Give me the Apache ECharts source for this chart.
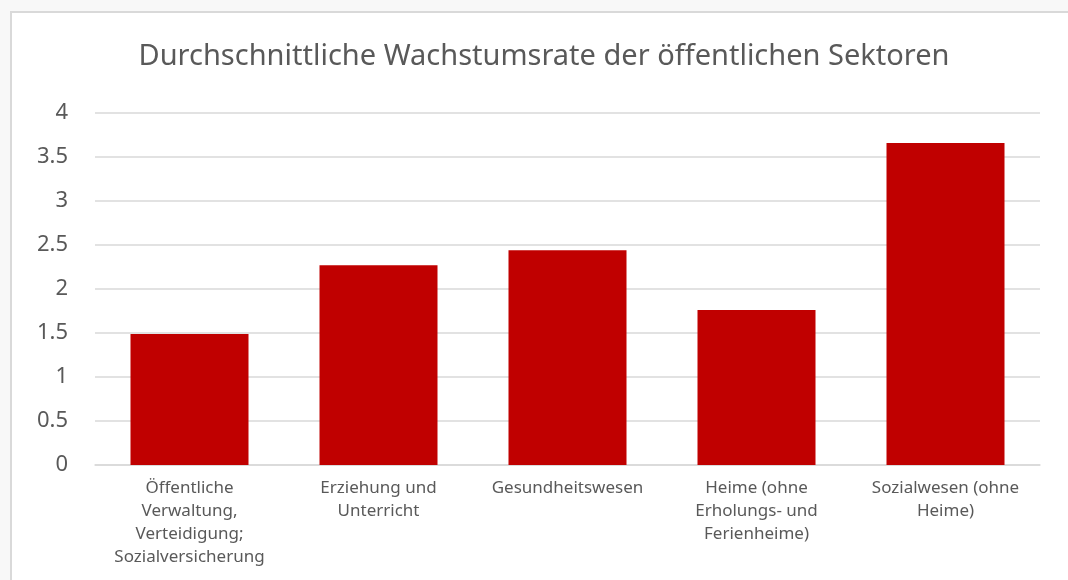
<!DOCTYPE html>
<html>
<head>
<meta charset="utf-8">
<title>Durchschnittliche Wachstumsrate der öffentlichen Sektoren</title>
<script src="https://cdn.jsdelivr.net/npm/echarts@6/dist/echarts.min.js"></script>
<style>
    html, body { margin: 0; padding: 0; background: #f8f8f8; overflow: hidden; }
    .frame {
        position: absolute; left: 10px; top: 11px;
        width: 1058px; height: 569px;
        background: #ffffff;
        border-top: 2px solid #d9d9d9;
        border-left: 2px solid #d9d9d9;
    }
    .chart { width: 1056px; height: 567px; }
</style>
</head>
<body>
<div class="frame"><div class="chart" id="chart"></div></div>
<script>
// sectors (line breaks as in the original axis labels)
const sectors = [
    'Öffentliche\nVerwaltung,\nVerteidigung;\nSozialversicherung',
    'Erziehung und\nUnterricht',
    'Gesundheitswesen',
    'Heime (ohne\nErholungs- und\nFerienheime)',
    'Sozialwesen (ohne\nHeime)'
];
// average growth rate
const growthRate = [1.49, 2.27, 2.44, 1.76, 3.66];
const yTicks = [0, 0.5, 1, 1.5, 2, 2.5, 3, 3.5, 4];

const textColor = '#595959';
const fontFamily = '"Noto Sans", "Open Sans", sans-serif';

const chart = echarts.init(document.getElementById('chart'));
chart.setOption({
    animation: false,
    title: {
        text: 'Durchschnittliche Wachstumsrate der öffentlichen Sektoren',
        left: 527,
        top: 24,
        textAlign: 'center',
        textStyle: {
            color: textColor,
            fontFamily: fontFamily,
            fontSize: 29,
            fontWeight: 'normal'
        }
    },
    grid: {
        left: 83,
        top: 100,
        width: 945,
        height: 352,
        containLabel: false
    },
    xAxis: {
        type: 'category',
        data: sectors,
        axisTick: { show: false },
        axisLine: { lineStyle: { color: '#d9d9d9', width: 1.5 } },
        axisLabel: {
            interval: 0,
            margin: 12,
            color: textColor,
            fontFamily: fontFamily,
            fontSize: 17,
            lineHeight: 23
        }
    },
    yAxis: {
        type: 'value',
        min: yTicks[0],
        max: yTicks[yTicks.length - 1],
        interval: 0.5,
        axisLine: { show: false },
        axisTick: { show: false },
        splitLine: { lineStyle: { color: '#d9d9d9', width: 1.5 } },
        axisLabel: {
            margin: 27,
            color: textColor,
            fontFamily: fontFamily,
            fontSize: 22
        }
    },
    series: [{
        name: 'Wachstumsrate',
        type: 'bar',
        data: growthRate,
        barWidth: 118,
        itemStyle: { color: '#c00000' }
    }]
});
</script>
</body>
</html>
